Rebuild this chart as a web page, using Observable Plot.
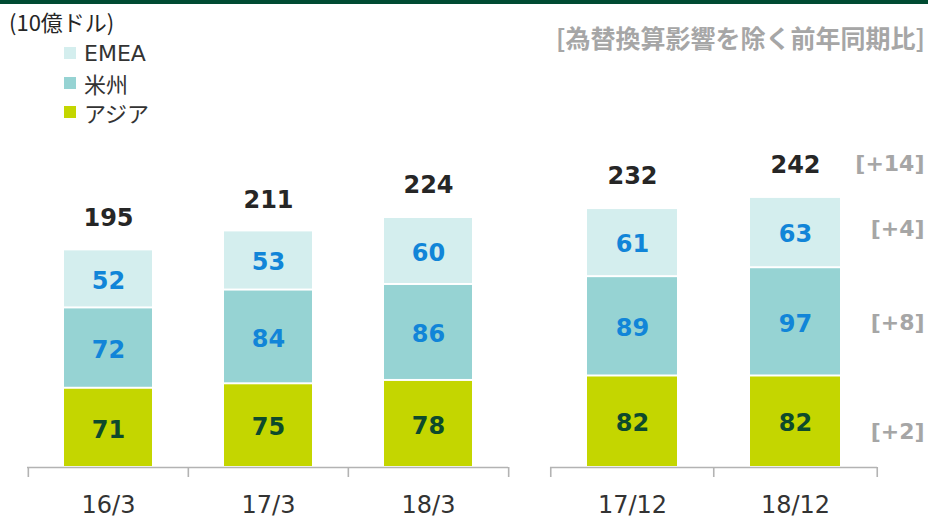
<!DOCTYPE html>
<html><head><meta charset="utf-8">
<script src="https://cdn.jsdelivr.net/npm/d3@7"></script>
<script src="https://cdn.jsdelivr.net/npm/@observablehq/plot@0.6"></script>
<style>
body{margin:0;background:#fff;}
#wrap{position:relative;width:928px;height:518px;overflow:hidden;font-family:"Noto Sans CJK JP",sans-serif;}
#stripe{position:absolute;left:0;top:0;width:928px;height:4px;background:#004b32;}
#unit{position:absolute;left:9px;top:10px;font-size:22px;line-height:22px;color:#262626;}
.leg{position:absolute;left:64px;height:30px;display:flex;align-items:center;font-family:"DejaVu Sans","Noto Sans CJK JP",sans-serif;font-size:22px;color:#333;}
.sw{width:12px;height:12px;margin-right:8px;}
#title{position:absolute;right:3px;top:25px;font-size:25px;line-height:25px;font-weight:bold;color:#a6a6a6;}
#charts{position:absolute;left:0;top:130px;display:flex;}
#charts svg{overflow:visible;}
</style>
</head><body>
<div id="wrap">
  <div id="stripe"></div>
  <div id="unit">(10億ドル)</div>
  <div id="legend"></div>
  <div id="title">[為替換算影響を除く前年同期比]</div>
  <div id="charts"></div>
</div>
<script>
// ---- data ----
const periodsA = ["16/3", "17/3", "18/3"];
const periodsB = ["17/12", "18/12"];
const periods = periodsA.concat(periodsB);
const regions = ["アジア", "米州", "EMEA"];          // stack order, bottom to top
const legendOrder = ["EMEA", "米州", "アジア"];
const regionColors = ["#c4d600", "#96d3d3", "#d4eeee"];
const asia = [71, 75, 78, 82, 82];
const americas = [72, 84, 86, 89, 97];
const emea = [52, 53, 60, 61, 63];
const totals = [195, 211, 224, 232, 242];
const yoyValues = [2, 8, 4];   // アジア, 米州, EMEA
const yoyTotal = 14;

// ---- build tidy rows ----
const series = [asia, americas, emea];
const rows = [];
periods.forEach((p, i) => regions.forEach((r, j) => rows.push({period: p, region: r, value: series[j][i]})));
const totalRows = periods.map((p, i) => ({period: p, total: totals[i]}));
const colorOf = Object.fromEntries(regions.map((r, i) => [r, regionColors[i]]));
const yoyOf = Object.fromEntries(regions.map((r, i) => [r, yoyValues[i]]));

// ---- legend ----
const legend = document.getElementById("legend");
legendOrder.forEach((r, i) => {
  const d = document.createElement("div");
  d.className = "leg";
  d.style.top = (38 + i * 29.5) + "px";
  d.innerHTML = `<div class="sw" style="background:${colorOf[r]}"></div><span>${r}</span>`;
  legend.appendChild(d);
});

// ---- charts ----
const H = 388, MB = 51, YMAX = 300, PX = 1.116;
const MT = H - MB - YMAX * PX;
const axisColor = "#b3b3b3";
const lastPeriod = periodsB[periodsB.length - 1];

function makeChart(cats, width, ml, mr, withYoY) {
  const data = rows.filter(d => cats.includes(d.period));
  const tdata = totalRows.filter(d => cats.includes(d.period));
  const step = (width - ml - mr) / cats.length;
  const tickLen = 10 / PX;
  const marks = [
    Plot.barY(data, Plot.stackY({x: "period", y: "value", z: "region", fill: d => colorOf[d.region], insetTop: 1, insetBottom: 1})),
    Plot.text(data, Plot.stackY({x: "period", y: "value", z: "region", text: d => d.region === "アジア" ? d.value : null,
      dy: 2, fill: "#0d4a2c", fontSize: 24, fontWeight: "bold", fontFamily: "DejaVu Sans"})),
    Plot.text(data, Plot.stackY({x: "period", y: "value", z: "region", text: d => d.region !== "アジア" ? d.value : null,
      dy: 2, fill: "#1185d8", fontSize: 24, fontWeight: "bold", fontFamily: "DejaVu Sans"})),
    Plot.text(tdata, {x: "period", y: "total", text: "total", dy: -32, fill: "#262626", fontSize: 24, fontWeight: "bold", fontFamily: "DejaVu Sans"}),
    Plot.ruleY([0], {stroke: axisColor, strokeWidth: 1.6}),
    Plot.ruleX(cats, {x: d => d, y1: 0, y2: -tickLen, dx: -step / 2, stroke: axisColor, strokeWidth: 1.6}),
    Plot.ruleX(cats.slice(-1), {x: d => d, y1: 0, y2: -tickLen, dx: step / 2, stroke: axisColor, strokeWidth: 1.6}),
    Plot.text(cats, {x: d => d, y: 0, dy: 38, text: d => d, fill: "#333", fontSize: 24, fontFamily: "DejaVu Sans"})
  ];
  if (withYoY) {
    const dyOf = {"アジア": 10, "米州": 1, "EMEA": -4};
    regions.forEach(r => {
      marks.push(Plot.text(data, Plot.stackY({x: "period", y: "value", z: "region",
        text: d => d.period === lastPeriod && d.region === r ? `[+${yoyOf[r]}]` : null,
        dx: 129, dy: dyOf[r], textAnchor: "end", fill: "#a6a6a6", fontSize: 22, fontWeight: "bold", fontFamily: "DejaVu Sans"})));
    });
    marks.push(Plot.text(tdata.filter(d => d.period === lastPeriod), {x: "period", y: "total", text: () => `[+${yoyTotal}]`,
      dx: 129, dy: -33, textAnchor: "end", fill: "#a6a6a6", fontSize: 22, fontWeight: "bold", fontFamily: "DejaVu Sans"}));
  }
  return Plot.plot({
    width, height: H, marginLeft: ml, marginRight: mr, marginTop: MT, marginBottom: MB,
    x: {domain: cats, paddingInner: 0.45, paddingOuter: 0.225, axis: null},
    y: {domain: [0, YMAX], axis: null},
    color: {type: "identity"},
    style: {fontFamily: "DejaVu Sans", background: "transparent", overflow: "visible"},
    marks
  });
}

const charts = document.getElementById("charts");
charts.appendChild(makeChart(periodsA, 530, 27, 22, false));
charts.appendChild(makeChart(periodsB, 398, 20, 51, true));
</script>
</body></html>
